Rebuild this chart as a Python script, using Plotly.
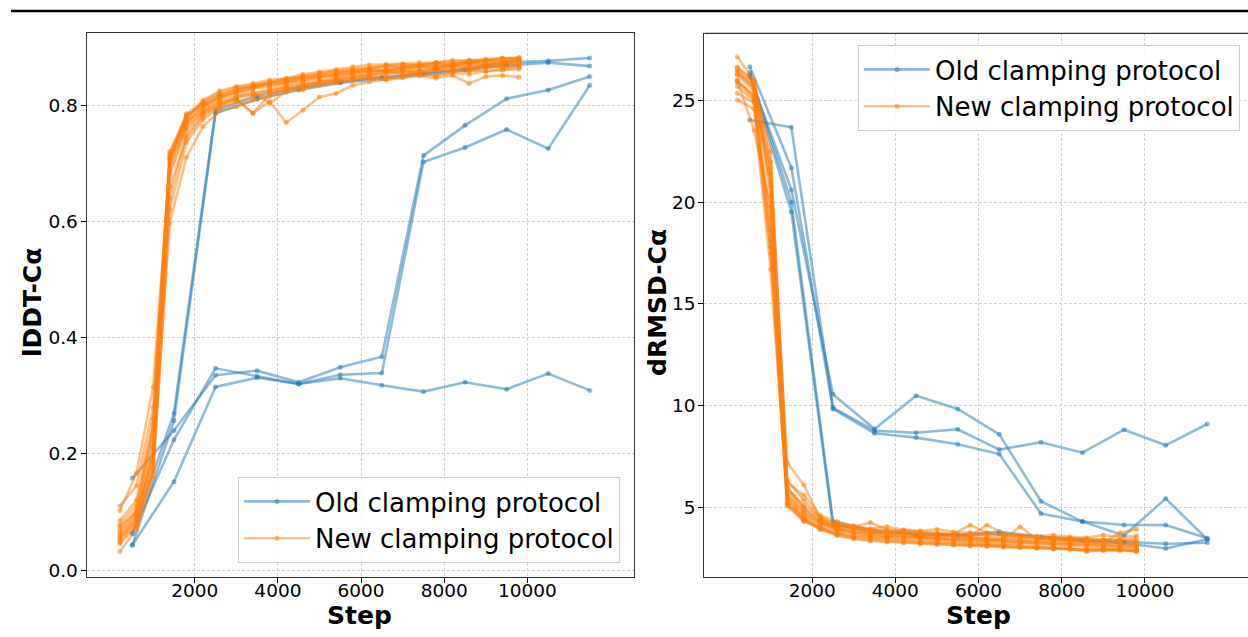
import plotly.graph_objects as go

# ---------------- data ----------------
old_steps = [500, 1500, 2500, 3500, 4500, 5500, 6500, 7500, 8500, 9500, 10500, 11500]
new_steps = [200, 600, 1000, 1400, 1800, 2200, 2600, 3000, 3400, 3800, 4200, 4600, 5000,
             5400, 5800, 6200, 6600, 7000, 7400, 7800, 8200, 8600, 9000, 9400, 9800]
x_ticks = [2000, 4000, 6000, 8000, 10000]
lddt_ticks = [0.0, 0.2, 0.4, 0.6, 0.8]
drmsd_ticks = [5, 10, 15, 20, 25]

# Old clamping protocol, lDDT-Calpha
old_lddt_r1 = [0.063, 0.270, 0.791, 0.815, 0.830, 0.840, 0.848, 0.855, 0.862, 0.873, 0.876, 0.881]
old_lddt_r2 = [0.043, 0.257, 0.786, 0.810, 0.826, 0.838, 0.845, 0.852, 0.860, 0.868, 0.873, 0.867]
old_lddt_r3 = [0.158, 0.240, 0.335, 0.343, 0.323, 0.349, 0.367, 0.713, 0.765, 0.811, 0.826, 0.849]
old_lddt_r4 = [0.063, 0.224, 0.347, 0.334, 0.320, 0.336, 0.339, 0.702, 0.727, 0.758, 0.725, 0.834]
old_lddt_r5 = [0.043, 0.152, 0.315, 0.331, 0.320, 0.330, 0.318, 0.307, 0.323, 0.311, 0.338, 0.309]

# Old clamping protocol, dRMSD-Calpha
old_drmsd_r1 = [26.38, 20.00, 4.30, 3.85, 3.70, 3.65, 3.80, 3.55, 3.40, 3.30, 3.21, 3.26]
old_drmsd_r2 = [26.26, 19.52, 4.15, 3.80, 3.65, 3.60, 3.70, 3.50, 3.35, 3.25, 2.98, 3.43]
old_drmsd_r3 = [26.18, 20.61, 10.56, 8.85, 10.49, 9.84, 8.59, 5.30, 4.30, 4.13, 4.13, 3.48]
old_drmsd_r4 = [26.67, 21.70, 9.84, 8.64, 8.43, 8.10, 7.62, 4.70, 4.30, 3.62, 5.43, 3.43]
old_drmsd_r5 = [24.05, 23.69, 9.90, 8.77, 8.67, 8.84, 7.84, 8.20, 7.69, 8.82, 8.05, 9.10]

# New clamping protocol, lDDT-Calpha
new_lddt_r01 = [0.065, 0.098, 0.210, 0.712, 0.781, 0.803, 0.818, 0.826, 0.832, 0.838, 0.842, 0.848, 0.851, 0.856, 0.858, 0.862, 0.866, 0.865, 0.868, 0.871, 0.869, 0.874, 0.876, 0.878, 0.881]
new_lddt_r02 = [0.052, 0.085, 0.185, 0.703, 0.772, 0.797, 0.812, 0.820, 0.829, 0.831, 0.838, 0.842, 0.847, 0.852, 0.855, 0.859, 0.858, 0.863, 0.866, 0.864, 0.870, 0.872, 0.871, 0.875, 0.877]
new_lddt_r03 = [0.078, 0.112, 0.250, 0.716, 0.785, 0.806, 0.821, 0.830, 0.834, 0.840, 0.845, 0.850, 0.855, 0.859, 0.862, 0.864, 0.868, 0.870, 0.869, 0.873, 0.875, 0.874, 0.877, 0.880, 0.882]
new_lddt_r04 = [0.045, 0.076, 0.170, 0.640, 0.748, 0.784, 0.800, 0.810, 0.786, 0.818, 0.828, 0.834, 0.839, 0.842, 0.846, 0.850, 0.853, 0.857, 0.855, 0.860, 0.862, 0.858, 0.864, 0.868, 0.866]
new_lddt_r05 = [0.102, 0.167, 0.315, 0.698, 0.762, 0.789, 0.808, 0.816, 0.824, 0.803, 0.824, 0.832, 0.840, 0.845, 0.848, 0.853, 0.857, 0.855, 0.860, 0.862, 0.866, 0.867, 0.869, 0.872, 0.874]
new_lddt_r06 = [0.058, 0.090, 0.200, 0.687, 0.768, 0.790, 0.805, 0.810, 0.786, 0.806, 0.770, 0.791, 0.814, 0.820, 0.834, 0.840, 0.845, 0.850, 0.853, 0.852, 0.857, 0.860, 0.858, 0.862, 0.864]
new_lddt_r07 = [0.070, 0.104, 0.230, 0.720, 0.779, 0.800, 0.814, 0.822, 0.829, 0.836, 0.840, 0.846, 0.850, 0.854, 0.857, 0.860, 0.861, 0.865, 0.867, 0.866, 0.870, 0.873, 0.875, 0.874, 0.878]
new_lddt_r08 = [0.032, 0.070, 0.160, 0.620, 0.735, 0.775, 0.796, 0.806, 0.815, 0.823, 0.829, 0.826, 0.836, 0.840, 0.843, 0.848, 0.846, 0.851, 0.853, 0.849, 0.855, 0.853, 0.858, 0.860, 0.862]
new_lddt_r09 = [0.085, 0.120, 0.260, 0.708, 0.775, 0.808, 0.824, 0.832, 0.837, 0.843, 0.846, 0.853, 0.857, 0.861, 0.866, 0.869, 0.870, 0.871, 0.873, 0.873, 0.877, 0.877, 0.879, 0.881, 0.880]
new_lddt_r10 = [0.062, 0.095, 0.190, 0.597, 0.710, 0.763, 0.790, 0.797, 0.808, 0.815, 0.822, 0.830, 0.835, 0.838, 0.843, 0.847, 0.843, 0.847, 0.850, 0.846, 0.851, 0.837, 0.849, 0.851, 0.848]
new_lddt_r11 = [0.110, 0.145, 0.280, 0.710, 0.770, 0.795, 0.812, 0.825, 0.833, 0.838, 0.843, 0.848, 0.853, 0.857, 0.860, 0.863, 0.867, 0.866, 0.869, 0.872, 0.871, 0.877, 0.876, 0.879, 0.878]
new_lddt_r12 = [0.048, 0.082, 0.175, 0.680, 0.757, 0.786, 0.802, 0.814, 0.820, 0.827, 0.833, 0.838, 0.843, 0.848, 0.852, 0.855, 0.859, 0.861, 0.859, 0.864, 0.866, 0.863, 0.868, 0.870, 0.872]
new_lddt_r13 = [0.075, 0.100, 0.240, 0.705, 0.783, 0.801, 0.816, 0.828, 0.832, 0.834, 0.837, 0.843, 0.848, 0.850, 0.854, 0.858, 0.860, 0.862, 0.865, 0.868, 0.867, 0.870, 0.869, 0.873, 0.875]
new_lddt_r14 = [0.055, 0.088, 0.205, 0.660, 0.742, 0.780, 0.799, 0.812, 0.819, 0.824, 0.831, 0.836, 0.838, 0.843, 0.849, 0.851, 0.855, 0.858, 0.856, 0.861, 0.858, 0.864, 0.866, 0.865, 0.868]

# New clamping protocol, dRMSD-Calpha
new_drmsd_r01 = [26.30, 25.70, 21.00, 5.60, 4.70, 4.25, 3.95, 3.80, 3.72, 3.65, 3.60, 3.52, 3.48, 3.42, 3.45, 3.38, 3.35, 3.30, 3.28, 3.22, 3.20, 3.18, 3.15, 3.10, 3.08]
new_drmsd_r02 = [26.60, 25.90, 22.00, 6.35, 5.36, 4.46, 4.20, 3.95, 3.88, 3.80, 3.75, 3.70, 3.62, 3.58, 3.55, 3.50, 3.45, 3.42, 3.40, 3.35, 3.32, 3.30, 3.28, 3.25, 3.20]
new_drmsd_r03 = [25.90, 25.30, 18.60, 5.08, 4.30, 3.98, 3.70, 3.55, 3.50, 3.42, 3.38, 3.30, 3.25, 3.20, 3.18, 3.15, 3.10, 3.05, 3.00, 2.98, 2.95, 2.90, 2.90, 2.88, 2.85]
new_drmsd_r04 = [27.16, 26.00, 20.30, 5.90, 4.90, 4.35, 4.10, 4.05, 4.25, 3.90, 3.85, 3.80, 3.75, 3.70, 4.13, 3.75, 3.65, 3.60, 3.55, 3.50, 3.45, 3.40, 3.38, 3.40, 3.50]
new_drmsd_r05 = [25.03, 24.60, 16.70, 5.30, 4.50, 4.10, 3.85, 3.70, 3.60, 3.55, 3.50, 3.45, 3.40, 3.35, 3.30, 3.28, 3.22, 3.20, 3.15, 3.12, 3.10, 3.05, 3.02, 3.00, 2.97]
new_drmsd_r06 = [26.50, 25.60, 21.40, 7.20, 6.10, 4.40, 4.00, 3.90, 3.78, 3.70, 3.68, 3.60, 3.55, 3.60, 3.50, 3.45, 3.42, 4.05, 3.45, 3.40, 3.35, 3.30, 3.28, 3.75, 3.92]
new_drmsd_r07 = [26.00, 25.20, 19.20, 5.50, 4.60, 4.20, 3.90, 3.75, 3.65, 3.60, 3.55, 3.50, 3.45, 3.40, 3.38, 3.35, 3.30, 3.28, 3.25, 3.20, 3.18, 3.15, 3.12, 3.10, 3.05]
new_drmsd_r08 = [25.36, 24.90, 17.50, 5.20, 4.40, 4.00, 3.75, 3.60, 3.55, 3.50, 3.45, 3.38, 3.32, 3.28, 3.25, 3.20, 3.15, 3.10, 3.05, 3.00, 2.98, 2.82, 2.90, 2.93, 2.82]
new_drmsd_r09 = [26.26, 25.50, 20.80, 6.00, 5.00, 4.30, 4.05, 4.00, 3.90, 3.85, 3.80, 3.70, 3.65, 3.62, 3.60, 4.13, 3.72, 3.60, 3.55, 3.50, 3.48, 3.45, 3.42, 3.40, 3.35]
new_drmsd_r10 = [25.93, 25.10, 18.20, 5.40, 4.45, 3.95, 3.60, 3.45, 3.35, 3.30, 3.25, 3.20, 3.18, 3.15, 3.10, 3.08, 3.05, 3.03, 3.00, 2.98, 2.96, 2.93, 2.95, 2.93, 2.90]
new_drmsd_r11 = [26.64, 26.00, 22.50, 6.20, 5.60, 4.60, 4.30, 4.10, 3.95, 4.05, 3.90, 3.85, 3.92, 3.80, 3.75, 3.70, 3.65, 3.60, 3.58, 3.64, 3.55, 3.50, 3.64, 3.55, 3.60]
new_drmsd_r12 = [25.70, 25.00, 17.80, 5.15, 4.35, 3.90, 3.65, 3.50, 3.40, 3.35, 3.30, 3.25, 3.20, 3.15, 3.12, 3.10, 3.05, 3.02, 3.00, 2.95, 2.93, 2.90, 2.88, 2.90, 2.86]
new_drmsd_r13 = [26.00, 23.56, 19.80, 5.70, 4.80, 4.25, 3.95, 3.82, 3.75, 3.70, 3.62, 3.58, 3.50, 3.48, 3.45, 3.40, 3.38, 3.35, 3.30, 3.28, 3.25, 3.22, 3.20, 3.18, 3.15]
new_drmsd_r14 = [26.40, 25.80, 21.70, 5.90, 5.10, 4.50, 4.15, 4.00, 3.85, 3.80, 3.85, 3.78, 3.70, 3.65, 3.70, 3.62, 3.55, 3.50, 3.52, 3.45, 3.42, 3.40, 3.38, 3.35, 3.30]

old_lddt = [old_lddt_r1, old_lddt_r2, old_lddt_r3, old_lddt_r4, old_lddt_r5]
old_drmsd = [old_drmsd_r1, old_drmsd_r2, old_drmsd_r3, old_drmsd_r4, old_drmsd_r5]
new_lddt = [new_lddt_r01, new_lddt_r02, new_lddt_r03, new_lddt_r04, new_lddt_r05, new_lddt_r06, new_lddt_r07,
            new_lddt_r08, new_lddt_r09, new_lddt_r10, new_lddt_r11, new_lddt_r12, new_lddt_r13, new_lddt_r14]
new_drmsd = [new_drmsd_r01, new_drmsd_r02, new_drmsd_r03, new_drmsd_r04, new_drmsd_r05, new_drmsd_r06, new_drmsd_r07,
             new_drmsd_r08, new_drmsd_r09, new_drmsd_r10, new_drmsd_r11, new_drmsd_r12, new_drmsd_r13, new_drmsd_r14]

OLD_LABEL = "Old clamping protocol"
NEW_LABEL = "New clamping protocol"
X_TITLE = "Step"
Y_TITLE_LEFT = "lDDT-Cα"
Y_TITLE_RIGHT = "dRMSD-Cα"

# ---------------- figure ----------------
W, H = 1248, 637
BLUE = "rgba(31,119,180,0.5)"
ORANGE = "rgba(255,127,14,0.5)"
FONT = "DejaVu Sans"

fig = go.Figure()


def add_runs(runs, steps, color, name, xa, ya, legend_id):
    for i, run in enumerate(runs):
        fig.add_trace(go.Scatter(
            x=steps, y=run, mode="lines+markers", name=name,
            line=dict(color=color, width=2.6),
            marker=dict(color=color, size=5),
            xaxis=xa, yaxis=ya, legend=legend_id,
            showlegend=(i == 0), hoverinfo="skip",
        ))


add_runs(old_lddt, old_steps, BLUE, OLD_LABEL, "x", "y", "legend")
add_runs(new_lddt, new_steps, ORANGE, NEW_LABEL, "x", "y", "legend")
add_runs(old_drmsd, old_steps, BLUE, OLD_LABEL, "x2", "y2", "legend2")
add_runs(new_drmsd, new_steps, ORANGE, NEW_LABEL, "x2", "y2", "legend2")

SPINE = "#333333"
GRID = "#d0d0d0"


def xaxis_style(domain, rng, anchor, mirror):
    return dict(
        domain=domain, range=rng, anchor=anchor, automargin=False,
        tickmode="array", tickvals=x_ticks, ticktext=[str(v) for v in x_ticks],
        ticks="outside", ticklen=5, tickwidth=1, tickcolor="black",
        tickfont=dict(family=FONT, size=18.5, color="black"), ticklabelstandoff=-8,
        showline=True, linecolor=SPINE, linewidth=1.2, mirror=mirror,
        showgrid=True, gridcolor=GRID, gridwidth=0.8, griddash="3px,2px",
        zeroline=False,
    )


def yaxis_style(domain, rng, anchor, ticks, fmt, mirror):
    return dict(
        domain=domain, range=rng, anchor=anchor, automargin=False,
        tickmode="array", tickvals=ticks, ticktext=[fmt.format(v) for v in ticks],
        ticks="outside", ticklen=5, tickwidth=1, tickcolor="black",
        tickfont=dict(family=FONT, size=18.5, color="black"), ticklabelstandoff=-1,
        showline=True, linecolor=SPINE, linewidth=1.2, mirror=mirror,
        showgrid=True, gridcolor=GRID, gridwidth=0.8, griddash="3px,2px",
        zeroline=False,
    )


y_dom = [1 - 576.7 / H, 1 - 33.3 / H]
title_font = dict(family=FONT, size=25, color="black")
annotations = [
    dict(text="<b>" + X_TITLE + "</b>", x=360 / W, y=1 - 615 / H, xref="paper", yref="paper",
         xanchor="center", yanchor="middle", showarrow=False, font=title_font),
    dict(text="<b>" + X_TITLE + "</b>", x=978 / W, y=1 - 615 / H, xref="paper", yref="paper",
         xanchor="center", yanchor="middle", showarrow=False, font=title_font),
    dict(text="<b>" + Y_TITLE_LEFT + "</b>", x=32 / W, y=1 - 303 / H, xref="paper", yref="paper",
         xanchor="center", yanchor="middle", textangle=-90, showarrow=False, font=title_font),
    dict(text="<b>" + Y_TITLE_RIGHT + "</b>", x=657 / W, y=1 - 303 / H, xref="paper", yref="paper",
         xanchor="center", yanchor="middle", textangle=-90, showarrow=False, font=title_font),
]

fig.update_layout(
    width=W, height=H, template="none",
    margin=dict(l=0, r=0, t=0, b=0),
    paper_bgcolor="white", plot_bgcolor="white",
    font=dict(family=FONT, color="black"),
    xaxis=xaxis_style([86.7 / W, 634 / W], [-598, 12563], "y", True),
    yaxis=yaxis_style(y_dom, [-0.0115, 0.9234], "x", lddt_ticks, "{:.1f}", True),
    xaxis2=xaxis_style([704.3 / W, 1.0], [-594, 12480], "y2", False),
    yaxis2=yaxis_style(y_dom, [1.59, 28.31], "x2", drmsd_ticks, "{:d}", False),
    legend=dict(
        x=620 / W, y=1 - 563 / H, xanchor="right", yanchor="bottom",
        bgcolor="rgba(255,255,255,0.8)", bordercolor="#cccccc", borderwidth=1,
        font=dict(family=FONT, size=26, color="black"), itemwidth=66,
    ),
    legend2=dict(
        x=1240 / W, y=1 - 45 / H, xanchor="right", yanchor="top",
        bgcolor="rgba(255,255,255,0.8)", bordercolor="#cccccc", borderwidth=1,
        font=dict(family=FONT, size=26, color="black"), itemwidth=66,
    ),
    annotations=annotations,
    shapes=[
        dict(type="line", xref="paper", yref="paper",
             x0=11 / W, x1=1.0, y0=1 - 11 / H, y1=1 - 11 / H,
             line=dict(color="black", width=2.5)),
        # top spine of the right panel (its right edge is cut off)
        dict(type="line", xref="paper", yref="paper", x0=704.3 / W, x1=1.0,
             y0=y_dom[1], y1=y_dom[1], line=dict(color=SPINE, width=1.2)),
    ],
)

fig.write_html("out.html", config={"displayModeBar": False})

# remove the default page margin so the figure sits at the window's top-left corner
with open("out.html", "r", encoding="utf-8") as fh:
    html = fh.read()
html = html.replace("<head>", "<head><style>html,body{margin:0;padding:0;overflow:hidden;}</style>", 1)
with open("out.html", "w", encoding="utf-8") as fh:
    fh.write(html)
